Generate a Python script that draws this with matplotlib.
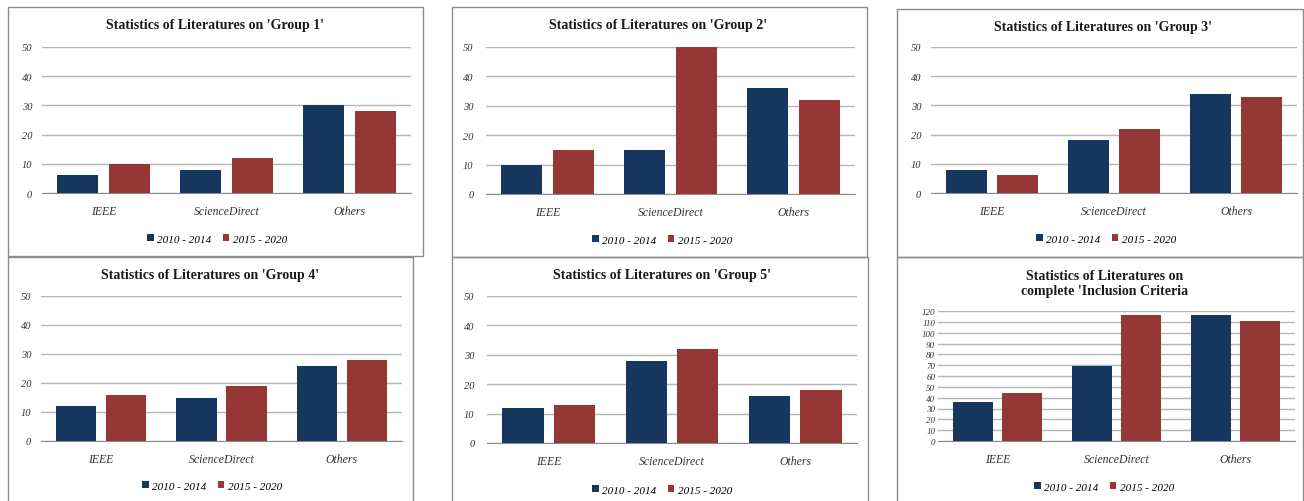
import matplotlib.pyplot as plt
from matplotlib.patches import Rectangle
import numpy as np

W, H = 1304, 502

categories = ['IEEE', 'ScienceDirect', 'Others']
series_names = ['2010 - 2014', '2015 - 2020']

group1_early = [6, 8, 30]
group1_late = [10, 12, 28]
group2_early = [10, 15, 36]
group2_late = [15, 50, 32]
group3_early = [8, 18, 34]
group3_late = [6, 22, 33]
group4_early = [12, 15, 26]
group4_late = [16, 19, 28]
group5_early = [12, 28, 16]
group5_late = [13, 32, 18]
total_early = [36, 69, 116]
total_late = [44, 116, 111]

titles = ["Statistics of Literatures on 'Group 1'",
          "Statistics of Literatures on 'Group 2'",
          "Statistics of Literatures on 'Group 3'",
          "Statistics of Literatures on 'Group 4'",
          "Statistics of Literatures on 'Group 5'",
          "Statistics of Literatures on\ncomplete 'Inclusion Criteria"]

early = [group1_early, group2_early, group3_early, group4_early, group5_early, total_early]
late = [group1_late, group2_late, group3_late, group4_late, group5_late, total_late]

# pixel layout: border box, plot box, title y, legend centre
layout = [
    dict(border=(8, 8, 423, 257), plot=(42, 48, 411, 194), title=(215, 25), leg=(217, 240), ymax=50, ypad=7),
    dict(border=(452, 8, 867, 258), plot=(486, 48, 855, 195), title=(658, 25), leg=(662, 241), ymax=50, ypad=9),
    dict(border=(897, 10, 1303, 258), plot=(931, 48, 1297, 194), title=(1103, 27), leg=(1106, 240), ymax=50, ypad=7),
    dict(border=(8, 258, 413, 505), plot=(41, 297, 402, 442), title=(210, 276), leg=(212, 487), ymax=50, ypad=7),
    dict(border=(452, 258, 868, 505), plot=(487, 297, 857, 444), title=(662, 276), leg=(662, 491), ymax=50, ypad=9),
    dict(border=(897, 258, 1303, 505), plot=(938, 312, 1295, 442), title=(1105, 284), leg=(1104, 488), ymax=120, ypad=2),
]

navy = '#17375E'
red = '#953735'
serif = 'Liberation Serif'

fig = plt.figure(figsize=(W / 100, H / 100), dpi=100)
fig.patch.set_facecolor('white')


def fx(x):
    return x / W


def fy(y):
    return 1 - y / H


for i, lay in enumerate(layout):
    bl, bt, br, bb = lay['border']
    fig.patches.append(Rectangle((fx(bl), fy(bb)), fx(br - bl), (bb - bt) / H,
                                 transform=fig.transFigure, fill=False,
                                 edgecolor='#8C8C8C', linewidth=1.0))
    pl, pt, pr, pb = lay['plot']
    ax = fig.add_axes([fx(pl), fy(pb), fx(pr - pl), (pb - pt) / H])
    x = np.arange(len(categories))
    w = 0.333
    ax.bar(x - 0.208, early[i], w, color=navy, label=series_names[0], zorder=3)
    ax.bar(x + 0.208, late[i], w, color=red, label=series_names[1], zorder=3)
    ax.set_xlim(-0.5, 2.5)
    ax.set_ylim(0, lay['ymax'])
    ax.set_yticks(np.arange(0, lay['ymax'] + 1, 10))
    ax.yaxis.grid(True, color='#B5B5B5', linewidth=1.0, zorder=0)
    ax.set_axisbelow(True)
    for s in ['top', 'right', 'left']:
        ax.spines[s].set_visible(False)
    ax.spines['bottom'].set_color('#8C8C8C')
    ax.set_xticks(x)
    ax.set_xticklabels(categories, fontfamily=serif, fontstyle='italic',
                       fontsize=8.5, color='#333333')
    ax.tick_params(axis='x', length=0, pad=8.5)
    ax.tick_params(axis='y', length=0, pad=lay['ypad'],
                   labelsize=6.5 if lay['ymax'] > 50 else 7.5, labelcolor='#333333')
    for lab in ax.get_yticklabels():
        lab.set_fontfamily(serif)
        lab.set_fontstyle('italic')
    tx, ty = lay['title']
    fig.text(fx(tx), fy(ty), titles[i], ha='center', va='center',
             fontfamily=serif, fontweight='bold', fontsize=10, color='#1A1A1A',
             linespacing=1.1)
    lx, ly = lay['leg']
    ax.legend(loc='center', bbox_to_anchor=(fx(lx), fy(ly)),
              bbox_transform=fig.transFigure, ncol=2, frameon=False,
              prop={'family': serif, 'style': 'italic', 'size': 8},
              handlelength=0.6, handleheight=0.6, handletextpad=0.3,
              columnspacing=1.0, borderaxespad=0)

plt.savefig('out.png', dpi=100)
